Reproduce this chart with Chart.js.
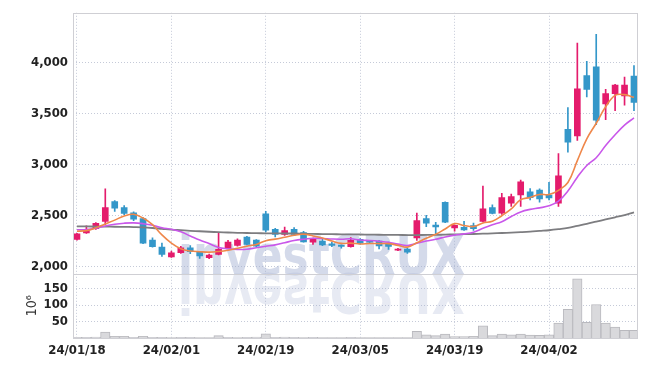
<!DOCTYPE html>
<html lang="en">
<head>
<meta charset="utf-8">
<title>Candles</title>
<script src="https://cdn.jsdelivr.net/npm/chart.js"></script>
<style>
  html, body { margin: 0; padding: 0; background: #fff; }
</style>
</head>
<body>
<canvas id="myChart" width="647" height="366"></canvas>
<script>
// trading days, 24/01/18 .. 24/04/16
const dates = [
  '24/01/18','24/01/19','24/01/22','24/01/23','24/01/24','24/01/25','24/01/26','24/01/29','24/01/30','24/01/31',
  '24/02/01','24/02/02','24/02/05','24/02/06','24/02/07','24/02/08','24/02/13','24/02/14','24/02/15','24/02/16',
  '24/02/19','24/02/20','24/02/21','24/02/22','24/02/23','24/02/26','24/02/27','24/02/28','24/02/29','24/03/04',
  '24/03/05','24/03/06','24/03/07','24/03/08','24/03/11','24/03/12','24/03/13','24/03/14','24/03/15','24/03/18',
  '24/03/19','24/03/20','24/03/21','24/03/22','24/03/25','24/03/26','24/03/27','24/03/28','24/03/29','24/04/01',
  '24/04/02','24/04/03','24/04/04','24/04/05','24/04/08','24/04/09','24/04/11','24/04/12','24/04/15','24/04/16'
];
const opens = [
  2265, 2330, 2372, 2443, 2637, 2578, 2527, 2470, 2259, 2191,
  2094, 2136, 2184, 2142, 2087, 2120, 2178, 2207, 2288, 2259,
  2517, 2365, 2314, 2365, 2333, 2239, 2249, 2223, 2210, 2194,
  2268, 2245, 2249, 2223, 2162, 2172, 2281, 2469, 2407, 2630,
  2378, 2385, 2401, 2443, 2578, 2523, 2620, 2702, 2733, 2750,
  2701, 2620, 3344, 3279, 3870, 3955, 3593, 3693, 3671, 3864
];
const closes = [
  2320, 2362, 2423, 2578, 2572, 2520, 2465, 2230, 2194, 2120,
  2136, 2184, 2145, 2104, 2113, 2169, 2239, 2259, 2217, 2200,
  2356, 2314, 2353, 2314, 2242, 2275, 2213, 2207, 2198, 2256,
  2230, 2238, 2203, 2198, 2172, 2142, 2450, 2426, 2388, 2436,
  2404, 2359, 2372, 2566, 2520, 2675, 2685, 2830, 2675, 2663,
  2672, 2889, 3218, 3741, 3734, 3434, 3693, 3777, 3777, 3606
];
const highs = [
  2325, 2400, 2430, 2760, 2646, 2598, 2535, 2480, 2281, 2230,
  2152, 2198, 2207, 2150, 2123, 2330, 2256, 2271, 2297, 2265,
  2540, 2375, 2388, 2382, 2346, 2280, 2271, 2239, 2214, 2285,
  2275, 2250, 2255, 2240, 2180, 2178, 2523, 2501, 2433, 2635,
  2410, 2443, 2426, 2789, 2605, 2717, 2711, 2847, 2763, 2760,
  2824, 3105, 3557, 4187, 4010, 4274, 3734, 3785, 3855, 3967
];
const lows = [
  2258, 2325, 2365, 2410, 2540, 2508, 2450, 2225, 2190, 2100,
  2090, 2130, 2126, 2080, 2078, 2115, 2175, 2200, 2212, 2195,
  2339, 2290, 2305, 2308, 2238, 2217, 2205, 2194, 2181, 2190,
  2220, 2230, 2174, 2168, 2155, 2130, 2256, 2391, 2323, 2430,
  2346, 2355, 2353, 2438, 2515, 2510, 2588, 2588, 2653, 2630,
  2653, 2588, 3121, 3235, 3661, 3390, 3438, 3525, 3579, 3525
];
// volume, millions of shares
const volumes = [
  2, 2, 3, 18, 5, 5, 2, 5, 2, 2,
  1, 2, 2, 1, 1, 7, 2, 1, 2, 3,
  13, 2, 3, 2, 1, 2, 1, 1, 1, 2,
  1, 1, 1, 1, 1, 1, 20, 10, 7, 12,
  4, 4, 5, 37, 7, 12, 10, 12, 9, 8,
  10, 45, 87, 180, 48, 102, 45, 33, 23, 23
];
// moving averages
const ma5 = [
  2346, 2352, 2380, 2418, 2455, 2495, 2512, 2475, 2410, 2310,
  2230, 2175, 2152, 2146, 2142, 2148, 2160, 2180, 2200, 2217,
  2254, 2269, 2288, 2307, 2316, 2300, 2279, 2250, 2227, 2230,
  2221, 2226, 2225, 2225, 2208, 2191, 2233, 2278, 2316, 2368,
  2421, 2403, 2392, 2427, 2444, 2498, 2564, 2655, 2677, 2706,
  2705, 2746, 2823, 3037, 3251, 3403, 3564, 3676, 3683, 3657
];
const ma10 = [
  2360, 2362, 2375, 2398, 2415, 2425, 2428, 2420, 2405, 2380,
  2365, 2340, 2300, 2260, 2225, 2188, 2175, 2168, 2170, 2185,
  2199, 2213, 2234, 2255, 2268, 2277, 2275, 2270, 2268, 2272,
  2260, 2255, 2248, 2238, 2220, 2206, 2229, 2250, 2268, 2290,
  2308, 2320, 2337, 2375, 2410, 2440, 2490, 2535, 2560, 2575,
  2595, 2640, 2740, 2875, 2990, 3065, 3185, 3290, 3385, 3455
];
const ma60 = [
  2394, 2393, 2392, 2391, 2390, 2389, 2387, 2384, 2378, 2370,
  2362, 2356, 2350, 2346, 2341, 2337, 2334, 2331, 2329, 2327,
  2326, 2325, 2324, 2324, 2322, 2320, 2318, 2317, 2316, 2315,
  2314, 2313, 2312, 2311, 2310, 2309, 2309, 2310, 2311, 2313,
  2315, 2317, 2319, 2322, 2325, 2329, 2333, 2337, 2342, 2349,
  2356, 2366, 2378, 2398, 2418, 2440, 2462, 2483, 2505, 2530
];
const priceTicks = [2000, 2500, 3000, 3500, 4000];
const volumeTicks = [50, 100, 150];
const dateTicks = [0, 10, 20, 30, 40, 50];

const UP = '#e41b6c';
const DOWN = '#3497c9';
const candleColor = opens.map((o, i) => closes[i] >= o ? UP : DOWN);

const pts = (arr) => arr.map((v, i) => ({ x: i, y: v }));

const axisFont = { family: "'DejaVu Sans Condensed', sans-serif", size: 13, weight: 'bold' };
const gridDots = { color: '#c5cad8', drawTicks: false, offset: false };
const noBorder = { display: false, dash: [1, 2] };

// watermark with reflection, drawn under the candles
const watermark = {
  id: 'watermark',
  beforeDatasetsDraw(chart) {
    const ctx = chart.ctx;
    const base = chart.scales.y.bottom;
    const text = 'investCRUX';
    ctx.save();
    ctx.font = "bold 56px 'DejaVu Sans Condensed', 'DejaVu Sans', sans-serif";
    const w = ctx.measureText(text).width;
    const sx = 287 / w;
    ctx.textBaseline = 'alphabetic';
    ctx.translate(178, base);
    ctx.scale(sx, 1);
    ctx.fillStyle = 'rgba(160, 172, 208, 0.45)';
    ctx.fillText(text, 0, 0);
    ctx.scale(1, -1);
    ctx.fillStyle = 'rgba(160, 172, 208, 0.25)';
    ctx.fillText(text, 0, 0);
    ctx.restore();
  }
};

// plot frame and panel separator
const frame = {
  id: 'frame',
  afterDatasetsDraw(chart) {
    const { ctx, chartArea: a } = chart;
    const sep = Math.round(chart.scales.y.bottom) + 0.5;
    ctx.save();
    ctx.strokeStyle = '#cfcfd4';
    ctx.lineWidth = 1;
    ctx.strokeRect(Math.round(a.left) + 0.5, Math.round(a.top) + 0.5,
      Math.round(a.right - a.left), Math.round(a.bottom - a.top));
    ctx.beginPath();
    ctx.moveTo(a.left, sep);
    ctx.lineTo(a.right, sep);
    ctx.stroke();
    ctx.restore();
  }
};

const config = {
  data: {
    datasets: [
      { type: 'line', label: 'MA5', data: pts(ma5), yAxisID: 'y', order: 0,
        borderColor: '#ef874a', borderWidth: 1.6, pointRadius: 0, tension: 0.4 },
      { type: 'line', label: 'MA10', data: pts(ma10), yAxisID: 'y', order: 0,
        borderColor: '#c957ea', borderWidth: 1.6, pointRadius: 0, tension: 0.4 },
      { type: 'line', label: 'MA60', data: pts(ma60), yAxisID: 'y', order: 0,
        borderColor: '#7d7d80', borderWidth: 1.8, pointRadius: 0, tension: 0.4 },
      { type: 'bar', label: 'body', data: opens.map((o, i) => ({ x: i, y: [o, closes[i]] })),
        yAxisID: 'y', order: 1, grouped: false, barThickness: 6,
        backgroundColor: candleColor, borderWidth: 0, minBarLength: 1 },
      { type: 'bar', label: 'wick', data: lows.map((l, i) => ({ x: i, y: [l, highs[i]] })),
        yAxisID: 'y', order: 2, grouped: false, barThickness: 1,
        backgroundColor: candleColor, borderWidth: 0 },
      { type: 'bar', label: 'volume', data: pts(volumes), yAxisID: 'yv', order: 3,
        grouped: false, barPercentage: 1, categoryPercentage: 1,
        backgroundColor: '#d9d9dc', borderColor: '#b9b9be', borderWidth: 1 }
    ]
  },
  options: {
    responsive: false,
    animation: false,
    events: [],
    layout: { padding: { top: 9, right: 10, left: 0, bottom: 0 } },
    plugins: { legend: { display: false }, tooltip: { enabled: false } },
    scales: {
      x: {
        type: 'linear',
        offset: false,
        min: -0.42,
        max: 59.32,
        afterBuildTicks: (s) => { s.ticks = dateTicks.map((v) => ({ value: v })); },
        afterFit: (s) => { s.height = 28; },
        ticks: { callback: (v) => dates[v], color: '#222', font: axisFont, padding: 5, maxRotation: 0, autoSkip: false },
        grid: gridDots,
        border: noBorder
      },
      yv: {
        position: 'left',
        stack: 'panels',
        stackWeight: 65,
        min: 0,
        max: 196,
        afterBuildTicks: (s) => { s.ticks = volumeTicks.map((v) => ({ value: v })); },
        afterFit: (s) => { s.width = 73; },
        ticks: { color: '#222', font: axisFont, padding: 5, autoSkip: false },
        grid: gridDots,
        border: noBorder,
        title: { display: true, text: '10\u2076', color: '#333',
          font: { family: "'DejaVu Sans Condensed', sans-serif", size: 14 },
          padding: { top: 24, bottom: 0 } }
      },
      y: {
        position: 'left',
        stack: 'panels',
        stackWeight: 263,
        min: 1932,
        max: 4484,
        afterBuildTicks: (s) => { s.ticks = priceTicks.map((v) => ({ value: v })); },
        afterFit: (s) => { s.width = 73; },
        ticks: { callback: (v) => v.toLocaleString('en-US'), color: '#222', font: axisFont, padding: 5, autoSkip: false },
        grid: gridDots,
        border: noBorder
      }
    }
  },
  plugins: [watermark, frame]
};

var myChart = new Chart(document.getElementById('myChart'), config);
</script>
</body>
</html>
